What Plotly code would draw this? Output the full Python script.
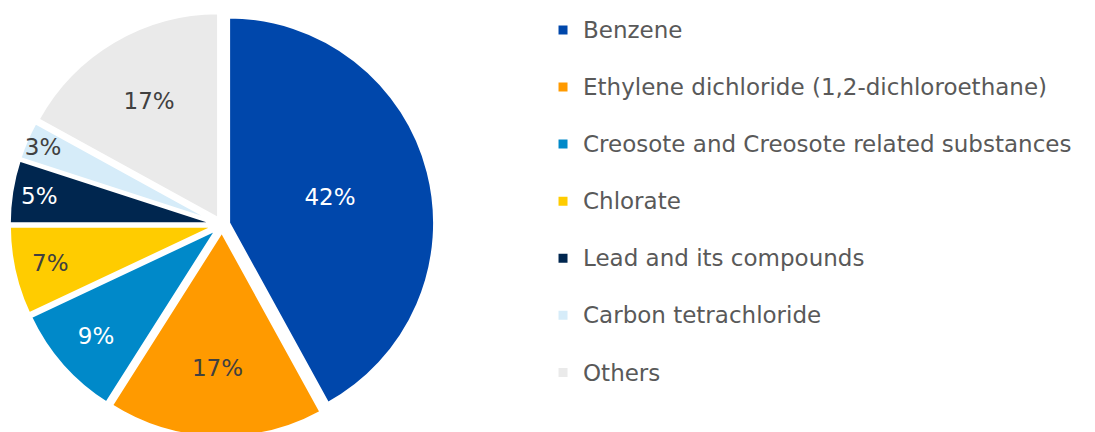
import plotly.graph_objects as go

categories = [
    "Benzene",
    "Ethylene dichloride (1,2-dichloroethane)",
    "Creosote and Creosote related substances",
    "Chlorate",
    "Lead and its compounds",
    "Carbon tetrachloride",
    "Others",
]
values = [42, 17, 9, 7, 5, 3, 17]
colors = ["#0047AB", "#FF9A00", "#0089C9", "#FFCC00", "#00264F", "#D6ECF9", "#EAEAEA"]
label_colors = ["#FFFFFF", "#404040", "#FFFFFF", "#404040", "#FFFFFF", "#404040", "#404040"]

legend_names = [f"<span style='font-size:23px'>{c}</span><br> " for c in categories]

fig = go.Figure(
    go.Pie(
        labels=legend_names,
        values=values,
        sort=False,
        direction="clockwise",
        rotation=0,
        pull=0.033,
        marker=dict(colors=colors, line=dict(color="#FFFFFF", width=3)),
        texttemplate="%{percent:.0%}",
        textposition="inside",
        insidetextorientation="horizontal",
        insidetextfont=dict(family="DejaVu Sans", size=23, color=label_colors),
        domain=dict(x=[0.0011, 0.3898], y=[0.0239, 0.9911]),
        hovertemplate="%{label}: %{percent:.0%}<extra></extra>",
    )
)

fig.update_layout(
    width=1095,
    height=440,
    margin=dict(l=0, r=0, t=0, b=0),
    paper_bgcolor="#FFFFFF",
    plot_bgcolor="#FFFFFF",
    font=dict(family="DejaVu Sans", color="#595959"),
    uniformtext=dict(minsize=23, mode="show"),
    legend=dict(
        x=0.4886,
        xanchor="left",
        y=0.9957,
        yanchor="top",
        valign="top",
        font=dict(family="DejaVu Sans", size=20.8, color="#595959"),
        bgcolor="rgba(0,0,0,0)",
        borderwidth=0,
    ),
)

fig.write_html("out.html")
